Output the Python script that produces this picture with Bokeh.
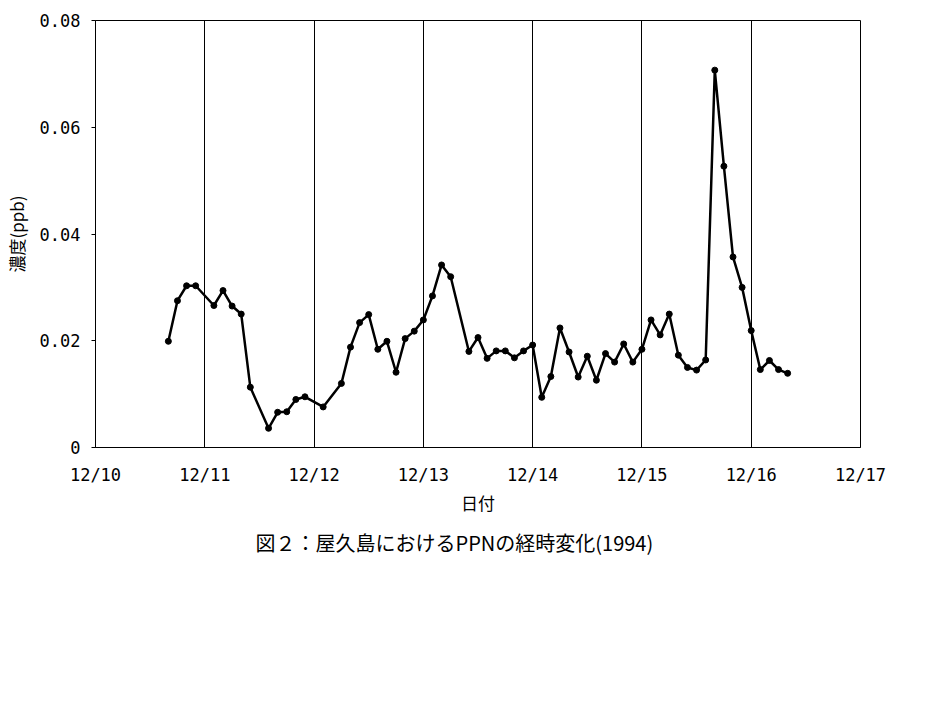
from bokeh.plotting import figure
from bokeh.models import Range1d, FixedTicker, Title
from bokeh.embed import file_html
from bokeh.resources import INLINE

# hours since 12/10 00:00
hours = [16, 18, 20, 22,
         26, 28, 30, 32, 34, 38, 40, 42, 44, 46,
         50, 54, 56, 58, 60, 62, 64, 66, 68, 70,
         72, 74, 76, 78, 82, 84, 86, 88, 90, 92, 94,
         96, 98, 100, 102, 104, 106, 108, 110, 112, 114, 116, 118,
         120, 122, 124, 126, 128, 130, 132, 134, 136, 138, 140, 142,
         144, 146, 148, 150, 152]
ppn = [0.0199, 0.0275, 0.0303, 0.0303,
       0.0266, 0.0294, 0.0265, 0.0250, 0.0113, 0.0036, 0.0066, 0.0067, 0.0090, 0.0095,
       0.0076, 0.0120, 0.0188, 0.0234, 0.0249, 0.0184, 0.0199, 0.0141, 0.0204, 0.0218,
       0.0239, 0.0284, 0.0342, 0.0320, 0.0180, 0.0206, 0.0167, 0.0181, 0.0181, 0.0168, 0.0181,
       0.0192, 0.0094, 0.0133, 0.0224, 0.0179, 0.0132, 0.0171, 0.0126, 0.0176, 0.0160, 0.0194, 0.0160,
       0.0184, 0.0239, 0.0211, 0.0250, 0.0173, 0.0150, 0.0145, 0.0164, 0.0707, 0.0527, 0.0357, 0.0300,
       0.0219, 0.0146, 0.0163, 0.0146, 0.0139]

day_ticks = [0, 24, 48, 72, 96, 120, 144, 168]
day_labels = ["12/10", "12/11", "12/12", "12/13", "12/14", "12/15", "12/16", "12/17"]
y_ticks = [0, 0.02, 0.04, 0.06, 0.08]
y_labels = ["0", "0.02", "0.04", "0.06", "0.08"]

x_title = "日付"
y_title = "濃度(ppb)"
caption = "図２：屋久島におけるPPNの経時変化(1994)"

CJK = "Noto Sans CJK JP"
MONO = "DejaVu Sans Mono"

p = figure(width=940, height=700, output_backend="svg", toolbar_location=None,
           x_range=Range1d(0, 168), y_range=Range1d(0, 0.08),
           min_border_left=93, min_border_right=80, min_border_top=20, min_border_bottom=253)
p.background_fill_color = "white"
p.border_fill_color = "white"
p.outline_line_color = "black"
p.outline_line_width = 1
p.outline_line_alpha = 1

p.line(hours, ppn, line_color="black", line_width=2.5)
p.scatter(hours, ppn, size=6, fill_color="black", line_color="black")

# x axis
p.xaxis.ticker = FixedTicker(ticks=day_ticks)
p.xaxis.major_label_overrides = {t: l for t, l in zip(day_ticks, day_labels)}
p.xaxis.major_tick_out = 0
p.xaxis.major_tick_in = 0
p.xaxis.minor_tick_out = 0
p.xaxis.minor_tick_in = 0
p.xaxis.axis_line_color = "black"
p.xaxis.major_label_standoff = 17
p.xaxis.major_label_text_font = MONO
p.xaxis.major_label_text_font_size = "17px"
p.xaxis.major_label_text_color = "black"
p.xaxis.axis_label = x_title
p.xaxis.axis_label_text_font = CJK
p.xaxis.axis_label_text_font_style = "normal"
p.xaxis.axis_label_text_font_size = "17px"
p.xaxis.axis_label_text_color = "black"
p.xaxis.axis_label_standoff = 2

# y axis
p.yaxis.ticker = FixedTicker(ticks=y_ticks)
p.yaxis.major_label_overrides = {t: l for t, l in zip(y_ticks, y_labels)}
p.yaxis.major_tick_out = 4
p.yaxis.major_tick_in = 0
p.yaxis.minor_tick_out = 0
p.yaxis.minor_tick_in = 0
p.yaxis.axis_line_color = "black"
p.yaxis.major_tick_line_color = "black"
p.yaxis.major_label_standoff = 11
p.yaxis.major_label_text_font = MONO
p.yaxis.major_label_text_font_size = "17px"
p.yaxis.major_label_text_color = "black"
p.yaxis.axis_label = y_title
p.yaxis.axis_label_text_font = CJK
p.yaxis.axis_label_text_font_style = "normal"
p.yaxis.axis_label_text_font_size = "17px"
p.yaxis.axis_label_text_color = "black"
p.yaxis.axis_label_standoff = 8

# grids
p.xgrid.ticker = FixedTicker(ticks=day_ticks)
p.xgrid.grid_line_color = "black"
p.xgrid.grid_line_alpha = 1
p.xgrid.grid_line_width = 1
p.ygrid.visible = False

cap = Title(text=caption, align="left", offset=160, text_font=CJK,
            text_font_size="20px", text_font_style="normal", text_color="black",
            standoff=17)
p.add_layout(cap, "below")

open("out.html", "w").write(file_html(p, INLINE))
